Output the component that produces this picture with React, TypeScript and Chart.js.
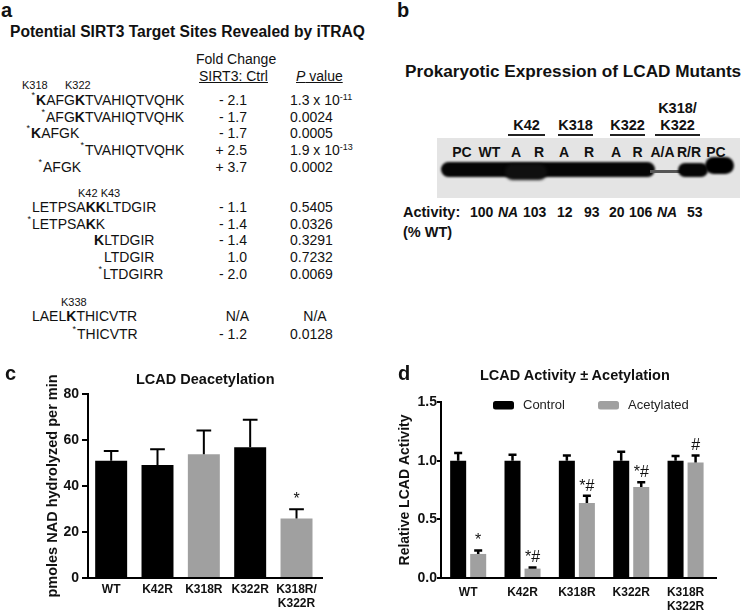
import React, { useEffect, useRef } from "react";
import { Chart, registerables } from "chart.js";

Chart.register(...registerables);

const FONT = '"Liberation Sans", Arial, Helvetica, sans-serif';
Chart.defaults.font.family = FONT;
Chart.defaults.color = "#111";

const BLACK = "#000000";
const GRAY = "#a0a0a0";

// ---------- Panel a: iTRAQ table ----------
const peptides = [
  "[K]AFG[K]TVAHIQTVQHK",
  "AFG[K]TVAHIQTVQHK",
  "[K]AFGK",
  "TVAHIQTVQHK",
  "AFGK",
  "LETPSA[KK]LTDGIR",
  "LETPSA[K]K",
  "[K]LTDGIR",
  "LTDGIR",
  "LTDGIRR",
  "LAEL[K]THICVTR",
  "THICVTR",
];
const peptideStarred = [true, true, true, true, true, false, true, false, false, true, false, true];
const foldChanges = ["- 2.1", "- 1.7", "- 1.7", "+ 2.5", "+ 3.7", "- 1.1", "- 1.4", "- 1.4", "1.0", "- 2.0", "N/A", "- 1.2"];
const pValueBase = ["1.3 x 10", "0.0024", "0.0005", "1.9 x 10", "0.0002", "0.5405", "0.0326", "0.3291", "0.7232", "0.0069", "N/A", "0.0128"];
const pValueExp = ["-11", "", "", "-13", "", "", "", "", "", "", "", ""];
const siteLabels = ["K318", "K322", "K42 K43", "K338"];

// layout of panel a (positions only)
const rowY = [100, 116.5, 133, 150, 167, 207, 223.5, 240, 257, 274, 316, 334];
const peptideX = [36, 46, 31, 85, 43, 32, 32, 94, 104, 103, 32, 77];
const siteLabelPos = [[22, 85], [65, 85], [78, 193], [61, 302]];

// ---------- Panel b: blot ----------
const laneLabels = ["PC", "WT", "A", "R", "A", "R", "A", "R", "A/A", "R/R", "PC"];
const groupLabels = ["K42", "K318", "K322", "K318/\nK322"];
const activityValues = ["100", "NA", "103", "12", "93", "20", "106", "NA", "53"];

const laneX = [462, 489.5, 516, 539, 564, 589, 616, 637.5, 662.5, 689, 716];
const groupX = [526.5, 575.5, 627.5, 677.5];
const groupLine = [[508, 545], [558, 593], [610, 645], [655, 700]];
const activityX = [470, 498, 523, 557, 584, 609, 629, 657, 687];

// ---------- Panel c: LCAD Deacetylation ----------
const deacCategories: (string | string[])[] = ["WT", "K42R", "K318R", "K322R", ["K318R/", "K322R"]];
const deacValues = [51.0, 49.1, 53.8, 56.9, 25.9];
const deacErrorTops = [55.2, 56.0, 64.1, 68.8, 29.9];
const deacMarks = ["", "", "", "", "*"];
const deacIsGray = [false, false, true, false, true];
const deacTicks = [0, 20, 40, 60, 80];

// ---------- Panel d: LCAD Activity ± Acetylation ----------
const actCategories: (string | string[])[] = ["WT", "K42R", "K318R", "K322R", ["K318R", "K322R"]];
const seriesNames = ["Control", "Acetylated"];
const controlValues = [1.0, 1.0, 1.0, 1.0, 1.0];
const controlErrorTops = [1.065, 1.05, 1.045, 1.075, 1.04];
const controlMarks = ["", "", "", "", ""];
const acetylatedValues = [0.205, 0.08, 0.64, 0.775, 0.985];
const acetylatedErrorTops = [0.235, 0.09, 0.7, 0.815, 1.045];
const acetylatedMarks = ["*", "*#", "*#", "*#", "#"];
const actTicks = [0, 0.5, 1.0, 1.5];

// ---------- helpers ----------
type TProps = {
  x: number;
  y: number;
  size?: number;
  bold?: boolean;
  italic?: boolean;
  align?: "left" | "center" | "right";
  style?: React.CSSProperties;
  children?: React.ReactNode;
};

function T({ x, y, size = 14, bold = false, italic = false, align = "left", style, children }: TProps) {
  const tx = align === "left" ? "0" : align === "center" ? "-50%" : "-100%";
  return (
    <div
      style={{
        position: "absolute",
        left: x,
        top: y,
        transform: `translate(${tx}, -50%)`,
        fontSize: size,
        lineHeight: 1,
        fontWeight: bold ? 700 : 400,
        fontStyle: italic ? "italic" : "normal",
        whiteSpace: "pre",
        color: "#111",
        ...style,
      }}
    >
      {children}
    </div>
  );
}

function Peptide({ text }: { text: string }) {
  const parts = text.split(/(\[[A-Z]+\])/).filter((p) => p.length);
  return (
    <>
      {parts.map((p, i) =>
        p.startsWith("[") ? <b key={i}>{p.slice(1, -1)}</b> : <span key={i}>{p}</span>
      )}
    </>
  );
}

function makeErrorBarPlugin(tops: number[][], marks: string[][], lineWidth: number, capRatio: number) {
  return {
    id: "errorBars",
    afterDatasetsDraw(chart: any) {
      const ctx = chart.ctx;
      const yScale = chart.scales.y;
      tops.forEach((dsTops, di) => {
        const meta = chart.getDatasetMeta(di);
        meta.data.forEach((bar: any, i: number) => {
          const p = bar.getProps(["x", "y", "width"], true);
          const yErr = yScale.getPixelForValue(dsTops[i]);
          const half = (p.width * capRatio) / 2;
          ctx.save();
          ctx.strokeStyle = BLACK;
          ctx.lineWidth = lineWidth;
          ctx.beginPath();
          ctx.moveTo(p.x, p.y);
          ctx.lineTo(p.x, yErr);
          ctx.moveTo(p.x - half, yErr);
          ctx.lineTo(p.x + half, yErr);
          ctx.stroke();
          const m = marks[di][i];
          if (m) {
            ctx.fillStyle = "#111";
            ctx.font = `16px ${FONT}`;
            ctx.textAlign = "center";
            ctx.textBaseline = "alphabetic";
            ctx.fillText(m, p.x, yErr - 5);
          }
          ctx.restore();
        });
      });
    },
  };
}

function makeFloatLegendPlugin(boxX: number[], yCenter: number) {
  return {
    id: "floatLegend",
    afterDraw(chart: any) {
      const ctx = chart.ctx;
      chart.data.datasets.forEach((ds: any, i: number) => {
        const x = boxX[i];
        ctx.save();
        ctx.fillStyle = ds.backgroundColor;
        ctx.beginPath();
        (ctx as any).roundRect(x, yCenter - 4, 21, 8.5, 2.5);
        ctx.fill();
        ctx.fillStyle = "#222";
        ctx.font = `13px ${FONT}`;
        ctx.textAlign = "left";
        ctx.textBaseline = "middle";
        ctx.fillText(ds.label, x + 30, yCenter + 0.5);
        ctx.restore();
      });
    },
  };
}

function xScale(categories: (string | string[])[], max: number, padding: number): any {
  return {
    type: "linear",
    offset: false,
    min: -0.5,
    max,
    afterBuildTicks: (s: any) => {
      s.ticks = categories.map((_, i) => ({ value: i }));
    },
    afterFit: (s: any) => {
      s.height = 35;
    },
    grid: { display: false, drawTicks: false },
    border: { color: BLACK, width: 2 },
    ticks: {
      autoSkip: false,
      maxRotation: 0,
      minRotation: 0,
      padding,
      color: "#111",
      font: { family: FONT, size: 12, weight: "bold" },
      callback: (_v: any, i: number) => categories[i],
    },
  };
}

function deacConfig(): any {
  return {
    type: "bar",
    data: {
      datasets: [
        {
          label: "LCAD Deacetylation",
          data: deacValues.map((v, i) => ({ x: i, y: v })),
          backgroundColor: deacIsGray.map((g) => (g ? GRAY : BLACK)),
          borderWidth: 0,
          categoryPercentage: 1,
          barPercentage: 0.69,
        },
      ],
    },
    options: {
      responsive: false,
      animation: false,
      devicePixelRatio: 1,
      layout: { padding: { left: 40, right: 18, top: 39, bottom: 0 } },
      plugins: { legend: { display: false }, tooltip: { enabled: false } },
      scales: {
        x: xScale(deacCategories, 4.55, 4),
        y: {
          min: 0,
          max: 80,
          afterBuildTicks: (s: any) => {
            s.ticks = deacTicks.map((v) => ({ value: v }));
          },
          afterFit: (s: any) => {
            s.width = 48;
          },
          grid: { drawOnChartArea: false, drawTicks: true, tickLength: 6, color: BLACK, lineWidth: 2 },
          border: { color: BLACK, width: 2 },
          ticks: { padding: 3, color: "#111", font: { family: FONT, size: 14, weight: "bold" } },
          title: {
            display: true,
            text: "pmoles NAD hydrolyzed per min",
            color: "#111",
            font: { family: FONT, size: 14.5, weight: "bold" },
            padding: { top: 4.3, bottom: 0 },
          },
        },
      },
    },
    plugins: [makeErrorBarPlugin([deacErrorTops], [deacMarks], 2, 0.46)],
  };
}

function activityConfig(): any {
  return {
    type: "bar",
    data: {
      datasets: [
        {
          label: seriesNames[0],
          data: controlValues.map((v, i) => ({ x: i, y: v })),
          backgroundColor: BLACK,
          borderWidth: 0,
          categoryPercentage: 0.737,
          barPercentage: 0.8,
        },
        {
          label: seriesNames[1],
          data: acetylatedValues.map((v, i) => ({ x: i, y: v })),
          backgroundColor: GRAY,
          borderWidth: 0,
          categoryPercentage: 0.737,
          barPercentage: 0.8,
        },
      ],
    },
    options: {
      responsive: false,
      animation: false,
      devicePixelRatio: 1,
      layout: { padding: { left: 20, right: 29, top: 22, bottom: 0 } },
      plugins: { legend: { display: false }, tooltip: { enabled: false } },
      scales: {
        x: xScale(actCategories, 4.56, 7),
        y: {
          min: 0,
          max: 1.5,
          afterBuildTicks: (s: any) => {
            s.ticks = actTicks.map((v) => ({ value: v }));
          },
          afterFit: (s: any) => {
            s.width = 51;
          },
          grid: { drawOnChartArea: false, drawTicks: true, tickLength: 4, color: BLACK, lineWidth: 2 },
          border: { color: BLACK, width: 2 },
          ticks: {
            padding: 0,
            color: "#111",
            font: { family: FONT, size: 14, weight: "bold" },
            callback: (v: any) => Number(v).toFixed(1),
          },
          title: {
            display: true,
            text: "Relative LCAD Activity",
            color: "#111",
            font: { family: FONT, size: 14, weight: "bold" },
            padding: { top: 6.6, bottom: 0 },
          },
        },
      },
    },
    plugins: [
      makeErrorBarPlugin([controlErrorTops, acetylatedErrorTops], [controlMarks, acetylatedMarks], 2.5, 0.5),
      makeFloatLegendPlugin([123, 228], 25),
    ],
  };
}

function ChartCanvas({ make, left, top, width, height }: { make: () => any; left: number; top: number; width: number; height: number }) {
  const ref = useRef<HTMLCanvasElement>(null);
  useEffect(() => {
    const chart = new Chart(ref.current as HTMLCanvasElement, make());
    return () => chart.destroy();
  }, []);
  return (
    <canvas
      ref={ref}
      width={width}
      height={height}
      style={{ position: "absolute", left, top, width, height, display: "block" }}
    />
  );
}

function PanelA() {
  return (
    <>
      <T x={1} y={9.5} size={20} bold>a</T>
      <T x={10} y={32} size={15.6} bold>Potential SIRT3 Target Sites Revealed by iTRAQ</T>
      <T x={196} y={59} size={14}>Fold Change</T>
      <T x={199} y={76} size={14} style={{ textDecoration: "underline" }}>SIRT3: Ctrl</T>
      <T x={296} y={76} size={14} style={{ textDecoration: "underline" }}>
        <i>P</i> value
      </T>
      {siteLabels.map((s, i) => (
        <T key={"s" + i} x={siteLabelPos[i][0]} y={siteLabelPos[i][1]} size={11}>
          {s}
        </T>
      ))}
      {peptides.map((p, i) => (
        <T key={"p" + i} x={peptideX[i]} y={rowY[i]} size={14}>
          {peptideStarred[i] && (
            <span style={{ position: "absolute", right: "100%", top: -2, fontSize: 9, paddingRight: 1 }}>*</span>
          )}
          <Peptide text={p} />
        </T>
      ))}
      {foldChanges.map((f, i) => (
        <T key={"f" + i} x={f === "N/A" ? 249 : 247} y={rowY[i]} size={14} align="right">
          {f}
        </T>
      ))}
      {pValueBase.map((p, i) =>
        p === "N/A" ? (
          <T key={"v" + i} x={315} y={rowY[i]} size={14} align="center">
            {p}
          </T>
        ) : (
          <T key={"v" + i} x={290} y={rowY[i]} size={14}>
            {p}
            {pValueExp[i] && <span style={{ position: "relative", top: -5, fontSize: 9 }}>{pValueExp[i]}</span>}
          </T>
        )
      )}
    </>
  );
}

function PanelB() {
  return (
    <>
      <T x={397} y={10} size={20} bold>b</T>
      <T x={405} y={72} size={17.2} bold>Prokaryotic Expression of LCAD Mutants</T>
      {groupLabels.map((g, i) => {
        const lines = g.split("\n");
        return lines.map((ln, j) => (
          <T key={"g" + i + "_" + j} x={groupX[i]} y={125 - (lines.length - 1 - j) * 17} size={14.5} bold align="center">
            {ln}
          </T>
        ));
      })}
      {groupLine.map((l, i) => (
        <div key={"gl" + i} style={{ position: "absolute", left: l[0], top: 134, width: l[1] - l[0], height: 1.5, background: "#222" }} />
      ))}
      <div style={{ position: "absolute", left: 437, top: 138, width: 303, height: 60, background: "#e4e4e4" }} />
      <div style={{ position: "absolute", left: 441, top: 161.5, width: 214, height: 15.5, borderRadius: 8, background: "#050505", filter: "blur(1.3px)" }} />
      <div style={{ position: "absolute", left: 505, top: 164, width: 42, height: 16, borderRadius: 8, background: "#101010", filter: "blur(1.5px)" }} />
      <div style={{ position: "absolute", left: 650, top: 170, width: 32, height: 3, background: "#555", filter: "blur(0.7px)" }} />
      <div style={{ position: "absolute", left: 678, top: 163, width: 30, height: 14, borderRadius: 7, background: "#050505", filter: "blur(1.2px)" }} />
      <div style={{ position: "absolute", left: 705, top: 157, width: 29, height: 17, borderRadius: 9, background: "#000", filter: "blur(1.2px)" }} />
      {laneLabels.map((l, i) => (
        <T key={"l" + i} x={laneX[i]} y={152} size={14} bold align="center">
          {l}
        </T>
      ))}
      <T x={403} y={212} size={14.5} bold>Activity:</T>
      {activityValues.map((a, i) => (
        <T key={"a" + i} x={activityX[i]} y={212} size={14} bold italic={a === "NA"}>
          {a}
        </T>
      ))}
      <T x={403} y={232} size={14.5} bold>(% WT)</T>
    </>
  );
}

export default function App() {
  return (
    <div
      style={{
        position: "absolute",
        left: 0,
        top: 0,
        width: 745,
        height: 613,
        background: "#fff",
        overflow: "hidden",
        fontFamily: FONT,
        color: "#111",
      }}
    >
      <PanelA />
      <PanelB />
      <ChartCanvas make={deacConfig} left={0} top={355} width={340} height={258} />
      <ChartCanvas make={activityConfig} left={370} top={380} width={375} height={233} />
      <T x={5} y={373} size={20} bold>c</T>
      <T x={136} y={379} size={14.5} bold>LCAD Deacetylation</T>
      <T x={398} y={373} size={20} bold>d</T>
      <T x={480} y={375} size={14.5} bold>LCAD Activity ± Acetylation</T>
    </div>
  );
}
